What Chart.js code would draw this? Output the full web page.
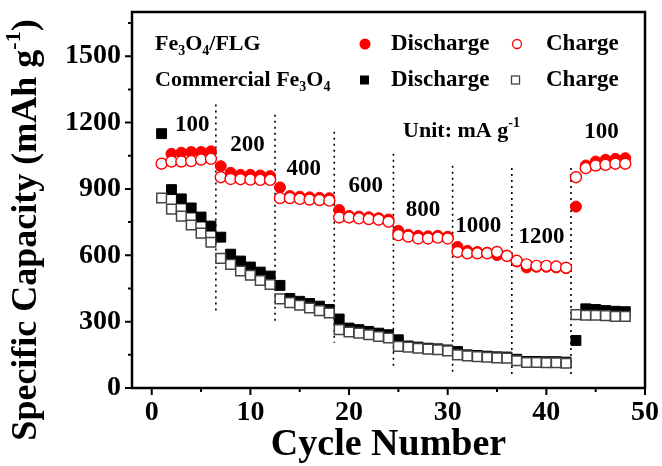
<!DOCTYPE html>
<html>
<head>
<meta charset="utf-8">
<script src="https://cdn.jsdelivr.net/npm/chart.js@4.4.1/dist/chart.umd.min.js"></script>
<style>
html,body{margin:0;padding:0;background:#fff;}
#wrap{width:662px;height:466px;}
</style>
</head>
<body>
<div id="wrap"><canvas id="rateChart" width="662" height="466"></canvas></div>
<script>
// cycle numbers
const cycles = [];
for (let i = 1; i <= 48; i++) cycles.push(i);

// Fe3O4/FLG
const flgDischarge = [null, 1059, 1064, 1067, 1067, 1070,
  1003, 973, 964, 964, 961, 958,
  907, 868, 865, 862, 860, 858,
  805, 778, 775, 772, 768, 762,
  711, 693, 688, 686, 688, 684,
  638, 620, 615, 612, 601, 598,
  572, 545, 548, 548, 545, 542,
  820, 1006, 1024, 1032, 1036, 1039];
const flgCharge = [1014, 1024, 1024, 1026, 1033, 1036,
  953, 945, 944, 942, 941, 941,
  859, 859, 855, 852, 850, 847,
  771, 771, 767, 764, 761, 752,
  691, 685, 676, 676, 680, 676,
  615, 609, 609, 609, 615, 597,
  575, 559, 552, 552, 549, 544,
  953, 994, 1006, 1009, 1014, 1014];

// Commercial Fe3O4
const comDischarge = [1150, 897, 855, 814, 773, 732,
  682, 605, 574, 547, 524, 506,
  464, 405, 392, 382, 370, 355,
  312, 271, 264, 256, 248, 241,
  218, 190, 185, 180, 177, 172,
  165, 150, 147, 144, 141, 140,
  130, 120, 120, 119, 119, 117,
  215, 358, 355, 350, 347, 345];
const comCharge = [859, 809, 777, 737, 700, 659,
  586, 559, 529, 510, 486, 468,
  403, 386, 374, 362, 350, 339,
  264, 253, 248, 241, 233, 226,
  188, 185, 180, 176, 173, 168,
  150, 145, 142, 139, 136, 135,
  123, 115, 115, 114, 114, 112,
  332, 329, 329, 327, 324, 324];

// dotted separators between current densities
const divX = [6.5, 12.5, 18.5, 24.5, 30.5, 36.5, 42.5];
const divTop = [1282, 1236, 1159, 1059, 1005, 995, 995];
const divBottom = [341, 291, 205, 91, 59, 50, 50];

// current density labels (mA g-1)
const rateLabels = ["100", "200", "400", "600", "800", "1000", "1200", "100"];
const rateAt = [[4.1, 1188], [9.7, 1100], [15.4, 991], [21.7, 914], [27.5, 805], [33.1, 732], [39.5, 682], [45.6, 1159]];

const xMajor = [0, 10, 20, 30, 40, 50];
const xMinor = [5, 15, 25, 35, 45];
const yMajor = [0, 300, 600, 900, 1200, 1500];
const yMinor = [150, 450, 750, 1050, 1350, 1650];

const SERIF = '"Liberation Serif", "Times New Roman", serif';

const pts = vals => cycles.map((c, i) => ({x: c, y: vals[i]})).filter(p => p.y !== null);

function rich(ctx, parts, x, y, size, align) {
  const fontFor = p => "bold " + (p[1] === "n" ? size : Math.round(size * 0.62)) + "px " + SERIF;
  let w = 0;
  parts.forEach(p => { ctx.font = fontFor(p); w += ctx.measureText(p[0]).width; });
  let cx = align === "center" ? x - w / 2 : x;
  parts.forEach(p => {
    ctx.font = fontFor(p);
    const dy = p[1] === "sub" ? size * 0.32 : p[1] === "sup" ? -size * 0.36 : 0;
    ctx.fillText(p[0], cx, y + dy);
    cx += ctx.measureText(p[0]).width;
  });
}

const decor = {
  id: "decor",
  afterDraw(chart) {
    const {ctx, chartArea: a, scales: {x, y}} = chart;
    ctx.save();
    ctx.strokeStyle = "#000";
    ctx.fillStyle = "#000";
    ctx.lineWidth = 2.5;
    ctx.strokeRect(a.left, a.top, a.right - a.left, a.bottom - a.top);

    ctx.lineWidth = 2;
    ctx.beginPath();
    xMajor.forEach(v => { const px = x.getPixelForValue(v); ctx.moveTo(px, a.bottom); ctx.lineTo(px, a.bottom + 7); });
    xMinor.forEach(v => { const px = x.getPixelForValue(v); ctx.moveTo(px, a.bottom); ctx.lineTo(px, a.bottom + 4); });
    yMajor.forEach(v => { const py = y.getPixelForValue(v); ctx.moveTo(a.left, py); ctx.lineTo(a.left - 7, py); });
    yMinor.forEach(v => { const py = y.getPixelForValue(v); ctx.moveTo(a.left, py); ctx.lineTo(a.left - 4, py); });
    ctx.stroke();

    ctx.textBaseline = "middle";
    ctx.textAlign = "left";

    // rate labels
    rateLabels.forEach((t, i) => {
      rich(ctx, [[t, "n"]], x.getPixelForValue(rateAt[i][0]), y.getPixelForValue(rateAt[i][1]), 23, "center");
    });
    rich(ctx, [["Unit: mA g", "n"], ["-1", "sup"]], x.getPixelForValue(31.4), y.getPixelForValue(1159), 22, "center");

    // legend
    const r1 = 44, r2 = 80;
    rich(ctx, [["Fe", "n"], ["3", "sub"], ["O", "n"], ["4", "sub"], ["/FLG", "n"]], 155, r1, 22, "left");
    rich(ctx, [["Commercial Fe", "n"], ["3", "sub"], ["O", "n"], ["4", "sub"]], 155, r2, 22, "left");
    rich(ctx, [["Discharge", "n"]], 391, r1, 23, "left");
    rich(ctx, [["Charge", "n"]], 546, r1, 23, "left");
    rich(ctx, [["Discharge", "n"]], 391, r2, 23, "left");
    rich(ctx, [["Charge", "n"]], 546, r2, 23, "left");

    ctx.fillStyle = "#ff0000";
    ctx.beginPath(); ctx.arc(365, r1, 5.5, 0, Math.PI * 2); ctx.fill();
    ctx.strokeStyle = "#ff0000"; ctx.lineWidth = 1.3;
    ctx.beginPath(); ctx.arc(517, r1, 4.5, 0, Math.PI * 2); ctx.stroke();
    ctx.fillStyle = "#000";
    ctx.fillRect(360, r2 - 4.5, 9, 9);
    ctx.strokeStyle = "#444"; ctx.lineWidth = 1.3;
    ctx.strokeRect(511.5, r2 - 4, 8, 8);

    // y title
    ctx.fillStyle = "#000";
    ctx.translate(27, 230);
    ctx.rotate(-Math.PI / 2);
    rich(ctx, [["Specific Capacity (mAh g", "n"], ["-1", "sup"], [")", "n"]], 0, 0, 36, "center");
    ctx.restore();
  }
};

const datasets = [
  {label: "Fe3O4/FLG Charge", data: pts(flgCharge), pointStyle: "circle", pointRadius: 5.5,
   backgroundColor: "#ffffff", borderColor: "#ff0000", borderWidth: 1.4, order: 1},
  {label: "Commercial Charge", data: pts(comCharge), pointStyle: "rect", pointRadius: 6.8,
   backgroundColor: "#ffffff", borderColor: "#444444", borderWidth: 1.5, order: 1},
  {label: "Fe3O4/FLG Discharge", data: pts(flgDischarge), pointStyle: "circle", pointRadius: 5.5,
   backgroundColor: "#ff0000", borderColor: "#ff0000", borderWidth: 1, order: 2},
  {label: "Commercial Discharge", data: pts(comDischarge), pointStyle: "rect", pointRadius: 7,
   backgroundColor: "#000000", borderColor: "#000000", borderWidth: 1, order: 2}
];

divX.forEach((dx, i) => {
  datasets.push({
    data: [{x: dx, y: divTop[i]}, {x: dx, y: divBottom[i]}],
    showLine: true, borderColor: "#000", borderWidth: 1.6, borderDash: [2, 4],
    pointRadius: 0, order: 3
  });
});

new Chart(document.getElementById("rateChart"), {
  type: "scatter",
  data: {datasets: datasets},
  options: {
    responsive: false,
    devicePixelRatio: 1,
    animation: false,
    layout: {padding: {left: 0, top: 12, right: 17, bottom: 0}},
    plugins: {legend: {display: false}, tooltip: {enabled: false}},
    scales: {
      x: {
        type: "linear", min: -2, max: 50,
        afterBuildTicks: s => { s.ticks = xMajor.map(v => ({value: v})); },
        afterFit: s => { s.height = 78; s.paddingLeft = 0; s.paddingRight = 0; },
        grid: {display: false, drawTicks: false},
        border: {display: false},
        ticks: {color: "#000", padding: 8, callback: v => String(v),
          font: {family: SERIF, size: 28, weight: "bold"}},
        title: {display: true, text: "Cycle Number", color: "#000", padding: {top: 0, bottom: 2},
          font: {family: SERIF, size: 38, weight: "bold", lineHeight: 1}}
      },
      y: {
        type: "linear", min: 0, max: 1700,
        afterBuildTicks: s => { s.ticks = yMajor.map(v => ({value: v})); },
        afterFit: s => { s.width = 132; s.paddingTop = 0; s.paddingBottom = 0; },
        grid: {display: false, drawTicks: false},
        border: {display: false},
        ticks: {color: "#000", padding: 11, callback: v => String(v),
          font: {family: SERIF, size: 28, weight: "bold"}}
      }
    }
  },
  plugins: [decor]
});
</script>
</body>
</html>
